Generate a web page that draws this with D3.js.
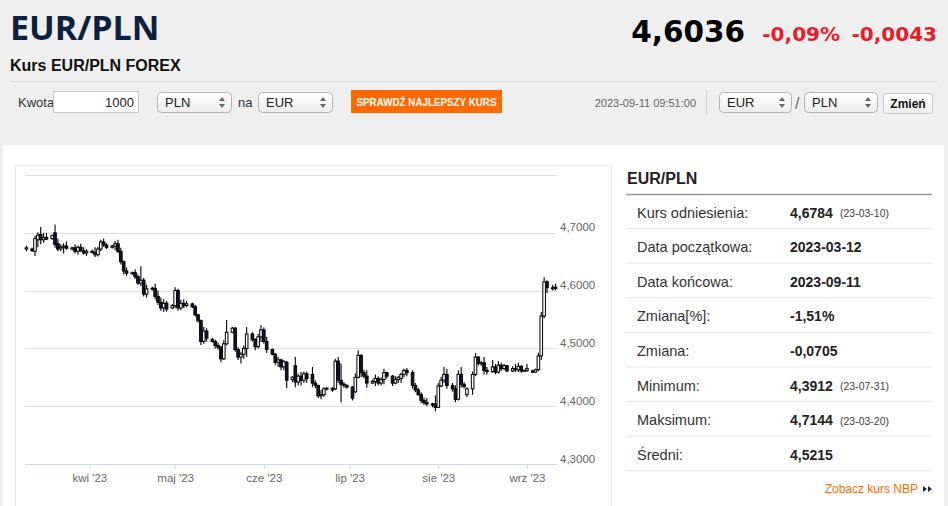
<!DOCTYPE html>
<html>
<head>
<meta charset="utf-8">
<script src="https://cdn.jsdelivr.net/npm/d3@7"></script>
<style>
  html, body { margin: 0; padding: 0; background: #efefef; }
  svg { display: block; }
</style>
</head>
<body>
<div id="page"></div>
<script>
// dzienne świece EUR/PLN (niedziela-piątek)
var days = [
  "03-10",
  "03-12","03-13","03-14","03-15","03-16","03-17",
  "03-19","03-20","03-21","03-22","03-23","03-24",
  "03-26","03-27","03-28","03-29","03-30","03-31",
  "04-02","04-03","04-04","04-05","04-06","04-07",
  "04-09","04-10","04-11","04-12","04-13","04-14",
  "04-16","04-17","04-18","04-19","04-20","04-21",
  "04-23","04-24","04-25","04-26","04-27","04-28",
  "04-30","05-01","05-02","05-03","05-04","05-05",
  "05-07","05-08","05-09","05-10","05-11","05-12",
  "05-14","05-15","05-16","05-17","05-18","05-19",
  "05-21","05-22","05-23","05-24","05-25","05-26",
  "05-28","05-29","05-30","05-31","06-01","06-02",
  "06-04","06-05","06-06","06-07","06-08","06-09",
  "06-11","06-12","06-13","06-14","06-15","06-16",
  "06-18","06-19","06-20","06-21","06-22","06-23",
  "06-25","06-26","06-27","06-28","06-29","06-30",
  "07-02","07-03","07-04","07-05","07-06","07-07",
  "07-09","07-10","07-11","07-12","07-13","07-14",
  "07-16","07-17","07-18","07-19","07-20","07-21",
  "07-23","07-24","07-25","07-26","07-27","07-28",
  "07-30","07-31","08-01","08-02","08-03","08-04",
  "08-06","08-07","08-08","08-09","08-10","08-11",
  "08-13","08-14","08-15","08-16","08-17","08-18",
  "08-20","08-21","08-22","08-23","08-24","08-25",
  "08-27","08-28","08-29","08-30","08-31","09-01",
  "09-03","09-04","09-05","09-06","09-07","09-08",
  "09-10","09-11"
];
var open = [
  4.672,
  4.672,4.668,4.688,4.697,4.688,4.692,
  4.690,4.700,4.681,4.672,4.675,4.677,
  4.672,4.674,4.668,4.675,4.669,4.665,
  4.668,4.666,4.662,4.672,4.684,4.679,
  4.675,4.677,4.681,4.668,4.650,4.634,
  4.630,4.631,4.624,4.613,4.618,4.594,
  4.603,4.604,4.590,4.580,4.570,4.578,
  4.570,4.574,4.600,4.570,4.578,4.574,
  4.577,4.572,4.558,4.548,4.512,4.530,
  4.515,4.512,4.505,4.502,4.482,4.508,
  4.528,4.535,4.498,4.485,4.490,4.500,
  4.525,4.515,4.503,4.520,4.532,4.512,
  4.498,4.490,4.476,4.480,4.468,4.476,
  4.446,4.470,4.442,4.452,4.445,4.456,
  4.455,4.440,4.436,4.418,4.420,4.430,
  4.431,4.430,4.478,4.445,4.438,4.436,
  4.433,4.425,4.450,4.488,4.458,4.452,
  4.440,4.443,4.448,4.440,4.446,4.458,
  4.452,4.440,4.446,4.448,4.455,4.462,
  4.458,4.436,4.428,4.420,4.410,4.406,
  4.404,4.404,4.398,4.435,4.445,4.455,
  4.436,4.430,4.412,4.455,4.438,4.420,
  4.430,4.455,4.485,4.474,4.475,4.462,
  4.460,4.468,4.459,4.471,4.465,4.470,
  4.461,4.465,4.463,4.469,4.461,4.462,
  4.461,4.459,4.463,4.487,4.556,4.615,
  4.605,4.606
];
var high = [
  4.678,
  4.674,4.695,4.701,4.710,4.700,4.700,
  4.697,4.7144,4.690,4.680,4.682,4.685,
  4.676,4.680,4.678,4.681,4.675,4.672,
  4.671,4.675,4.676,4.688,4.690,4.682,
  4.679,4.686,4.688,4.674,4.652,4.640,
  4.633,4.637,4.628,4.642,4.622,4.610,
  4.607,4.612,4.600,4.588,4.585,4.582,
  4.577,4.606,4.603,4.584,4.585,4.582,
  4.579,4.575,4.560,4.550,4.537,4.535,
  4.518,4.515,4.510,4.504,4.514,4.549,
  4.537,4.537,4.502,4.494,4.505,4.537,
  4.528,4.518,4.525,4.540,4.536,4.520,
  4.500,4.492,4.485,4.482,4.480,4.478,
  4.452,4.485,4.456,4.459,4.460,4.460,
  4.468,4.445,4.437,4.428,4.433,4.433,
  4.433,4.482,4.485,4.474,4.442,4.438,
  4.435,4.457,4.497,4.490,4.463,4.462,
  4.446,4.455,4.452,4.450,4.465,4.460,
  4.454,4.452,4.452,4.458,4.465,4.466,
  4.462,4.440,4.432,4.424,4.415,4.414,
  4.406,4.419,4.440,4.451,4.468,4.465,
  4.440,4.436,4.462,4.468,4.442,4.433,
  4.460,4.492,4.487,4.478,4.485,4.468,
  4.480,4.473,4.478,4.475,4.473,4.471,
  4.469,4.473,4.475,4.471,4.463,4.473,
  4.463,4.465,4.492,4.563,4.623,4.618,
  4.610,4.612
];
var low = [
  4.668,
  4.667,4.660,4.675,4.680,4.683,4.688,
  4.688,4.674,4.668,4.668,4.664,4.670,
  4.670,4.664,4.662,4.667,4.662,4.660,
  4.664,4.658,4.659,4.668,4.676,4.672,
  4.673,4.670,4.665,4.645,4.628,4.625,
  4.627,4.620,4.610,4.608,4.590,4.588,
  4.600,4.585,4.575,4.565,4.563,4.564,
  4.568,4.570,4.565,4.566,4.570,4.571,
  4.570,4.555,4.545,4.506,4.508,4.512,
  4.510,4.500,4.498,4.476,4.480,4.505,
  4.526,4.494,4.480,4.474,4.482,4.485,
  4.512,4.497,4.500,4.511,4.508,4.492,
  4.488,4.471,4.468,4.462,4.462,4.431,
  4.442,4.433,4.436,4.436,4.440,4.440,
  4.433,4.431,4.414,4.412,4.416,4.427,
  4.425,4.428,4.440,4.407,4.432,4.430,
  4.410,4.423,4.448,4.450,4.448,4.432,
  4.438,4.435,4.436,4.436,4.438,4.448,
  4.435,4.438,4.440,4.440,4.450,4.452,
  4.430,4.424,4.418,4.405,4.402,4.400,
  4.398,4.3912,4.397,4.433,4.440,4.430,
  4.425,4.407,4.410,4.432,4.430,4.416,
  4.420,4.452,4.470,4.470,4.455,4.455,
  4.458,4.455,4.456,4.461,4.463,4.459,
  4.459,4.459,4.459,4.458,4.459,4.459,
  4.457,4.458,4.461,4.480,4.552,4.596,
  4.600,4.600
];
var close = [
  4.674,
  4.669,4.690,4.696,4.688,4.692,4.689,
  4.695,4.680,4.672,4.675,4.677,4.673,
  4.674,4.668,4.675,4.669,4.665,4.668,
  4.666,4.662,4.672,4.684,4.679,4.675,
  4.677,4.681,4.668,4.650,4.634,4.630,
  4.631,4.624,4.613,4.618,4.594,4.603,
  4.604,4.590,4.580,4.570,4.578,4.568,
  4.574,4.600,4.570,4.578,4.574,4.577,
  4.572,4.558,4.548,4.512,4.530,4.518,
  4.512,4.505,4.502,4.482,4.508,4.528,
  4.535,4.498,4.485,4.490,4.500,4.525,
  4.515,4.503,4.520,4.532,4.512,4.498,
  4.490,4.476,4.480,4.468,4.477,4.445,
  4.450,4.442,4.452,4.445,4.456,4.448,
  4.440,4.436,4.418,4.420,4.430,4.431,
  4.428,4.478,4.445,4.438,4.436,4.433,
  4.414,4.450,4.488,4.458,4.452,4.440,
  4.443,4.448,4.440,4.446,4.458,4.452,
  4.440,4.446,4.450,4.455,4.462,4.458,
  4.436,4.428,4.420,4.410,4.406,4.404,
  4.402,4.398,4.435,4.445,4.455,4.436,
  4.430,4.412,4.455,4.438,4.434,4.430,
  4.455,4.485,4.474,4.475,4.462,4.460,
  4.468,4.459,4.471,4.465,4.470,4.461,
  4.465,4.463,4.469,4.461,4.462,4.465,
  4.459,4.463,4.487,4.556,4.615,4.605,
  4.603,4.6036
];

var yTicks = [4.3, 4.4, 4.5, 4.6, 4.7];
var yGrid = [4.3, 4.4, 4.5, 4.6, 4.7, 4.8];
var monthTicks = ["2023-04-01","2023-05-01","2023-06-01","2023-07-01","2023-08-01","2023-09-01"];
var monthLabels = ["kwi '23","maj '23","cze '23","lip '23","sie '23","wrz '23"];

var statLabels = ["Kurs odniesienia:","Data początkowa:","Data końcowa:","Zmiana[%]:","Zmiana:","Minimum:","Maksimum:","Średni:"];
var statValues = ["4,6784","2023-03-12","2023-09-11","-1,51%","-0,0705","4,3912","4,7144","4,5215"];
var statNotes = ["(23-03-10)","","","","","(23-07-31)","(23-03-20)",""];

var width = 948, height = 506;
var sans = "'Liberation Sans', Arial, sans-serif";
var verd = "'DejaVu Sans', Verdana, sans-serif";

var svg = d3.select("#page").append("svg")
  .attr("width", width)
  .attr("height", height);

svg.append("rect").attr("width", width).attr("height", height).attr("fill", "#efefef");

// ---- naglowek ----
svg.append("text").attr("x", 10).attr("y", 40)
  .attr("font-family", "'Open Sans', sans-serif").attr("font-weight", "bold")
  .attr("font-size", 34).attr("fill", "#0a2142").text("EUR/PLN");

svg.append("text").attr("x", 10).attr("y", 71)
  .attr("font-family", sans).attr("font-weight", "bold")
  .attr("font-size", 16).attr("fill", "#111").text("Kurs EUR/PLN FOREX");

svg.append("text").attr("x", 745).attr("y", 42).attr("text-anchor", "end")
  .attr("font-family", verd).attr("font-weight", "bold")
  .attr("font-size", 29.5).attr("fill", "#000").text("4,6036");
svg.append("text").attr("x", 840).attr("y", 41).attr("text-anchor", "end")
  .attr("font-family", verd).attr("font-weight", "bold")
  .attr("font-size", 20).attr("fill", "#ea1c28").text("-0,09%");
svg.append("text").attr("x", 937).attr("y", 41).attr("text-anchor", "end")
  .attr("font-family", verd).attr("font-weight", "bold")
  .attr("font-size", 20).attr("fill", "#ea1c28").text("-0,0043");

svg.append("line").attr("x1", 10).attr("x2", 938).attr("y1", 81.5).attr("y2", 81.5)
  .attr("stroke", "#dcdcdc");

// ---- pasek formularza ----
var defs = svg.append("defs");
var grad = defs.append("linearGradient").attr("id", "sel").attr("x1", 0).attr("x2", 0).attr("y1", 0).attr("y2", 1);
grad.append("stop").attr("offset", "0%").attr("stop-color", "#ffffff");
grad.append("stop").attr("offset", "100%").attr("stop-color", "#ececec");

function selectBox(x, w, label) {
  var g = svg.append("g").attr("transform", "translate(" + x + ",92)");
  g.append("rect").attr("x", 0.5).attr("y", 0.5).attr("width", w).attr("height", 20).attr("rx", 4)
    .attr("fill", "url(#sel)").attr("stroke", "#b5b5b5");
  g.append("text").attr("x", 8).attr("y", 15).attr("font-family", sans).attr("font-size", 13)
    .attr("fill", "#222").text(label);
  g.append("path").attr("d", "M" + (w - 12) + ",9 l3,-4 l3,4z M" + (w - 12) + ",12 l3,4 l3,-4z")
    .attr("fill", "#666");
}

svg.append("text").attr("x", 18).attr("y", 107).attr("font-family", sans).attr("font-size", 13)
  .attr("fill", "#333").text("Kwota");
svg.append("rect").attr("x", 53.5).attr("y", 91.5).attr("width", 85).attr("height", 21)
  .attr("fill", "#fff").attr("stroke", "#c8c8c8");
svg.append("text").attr("x", 134).attr("y", 107).attr("text-anchor", "end").attr("font-family", sans)
  .attr("font-size", 13).attr("fill", "#222").text("1000");
selectBox(157, 74, "PLN");
svg.append("text").attr("x", 238).attr("y", 107).attr("font-family", sans).attr("font-size", 13)
  .attr("fill", "#333").text("na");
selectBox(258, 74, "EUR");

svg.append("rect").attr("x", 351).attr("y", 90).attr("width", 151).attr("height", 23).attr("fill", "#ff6a00");
svg.append("text").attr("x", 426.5).attr("y", 106).attr("text-anchor", "middle").attr("font-family", sans)
  .attr("font-weight", "bold").attr("font-size", 10.5).attr("fill", "#fff")
  .attr("textLength", 140).attr("lengthAdjust", "spacingAndGlyphs").text("SPRAWDŹ NAJLEPSZY KURS");

svg.append("text").attr("x", 696).attr("y", 107).attr("text-anchor", "end").attr("font-family", sans)
  .attr("font-size", 11).attr("fill", "#666").text("2023-09-11 09:51:00");
svg.append("line").attr("x1", 706.5).attr("x2", 706.5).attr("y1", 90).attr("y2", 115).attr("stroke", "#d0d0d0");
selectBox(719, 72, "EUR");
svg.append("text").attr("x", 795).attr("y", 109).attr("font-family", sans).attr("font-size", 16)
  .attr("fill", "#666").text("/");
selectBox(804, 73, "PLN");
svg.append("rect").attr("x", 883.5).attr("y", 93.5).attr("width", 49).attr("height", 20).attr("rx", 2)
  .attr("fill", "url(#sel)").attr("stroke", "#c8c8c8");
svg.append("text").attr("x", 908).attr("y", 108).attr("text-anchor", "middle").attr("font-family", sans)
  .attr("font-weight", "bold").attr("font-size", 12).attr("fill", "#111").text("Zmień");

// ---- panel ----
svg.append("rect").attr("x", 3).attr("y", 145).attr("width", 941).attr("height", 370).attr("fill", "#fff");
svg.append("rect").attr("x", 15.5).attr("y", 165.5).attr("width", 596).attr("height", 360)
  .attr("fill", "none").attr("stroke", "#e8e8e8");

// ---- wykres ----
var parse = d3.timeParse("%Y-%m-%d");
var dates = days.map(function(d) { return parse("2023-" + d); });

var x = d3.scaleTime()
  .domain([new Date(2023, 2, 9, 12), new Date(2023, 8, 11, 12)])
  .range([25, 557]);
var y = d3.scaleLinear().domain([4.3, 4.8]).range([464, 175]);

svg.append("g").selectAll("line").data(yGrid).enter().append("line")
  .attr("x1", 25).attr("x2", 557)
  .attr("y1", function(d) { return Math.round(y(d)) + 0.5; })
  .attr("y2", function(d) { return Math.round(y(d)) + 0.5; })
  .attr("stroke", "#e0e0e0");

var yAxis = svg.append("g").attr("transform", "translate(557,0)")
  .call(d3.axisRight(y).tickValues(yTicks).tickSize(0).tickPadding(3)
    .tickFormat(function(d) { return d.toFixed(4).replace(".", ","); }));
yAxis.select(".domain").remove();
yAxis.selectAll("text").attr("dy", -2).attr("fill", "#666")
  .attr("font-family", sans).attr("font-size", 11.5);

var xAxis = svg.append("g").attr("transform", "translate(0,464)")
  .call(d3.axisBottom(x).tickValues(monthTicks.map(parse)).tickSize(5).tickSizeOuter(0).tickPadding(5)
    .tickFormat(function(d, i) { return monthLabels[i]; }));
xAxis.select(".domain").attr("stroke", "#ccd6eb");
xAxis.selectAll(".tick line").attr("stroke", "#ccd6eb");
xAxis.selectAll("text").attr("fill", "#666").attr("font-family", sans).attr("font-size", 11.5);

var candles = svg.append("g").selectAll("g").data(days).enter().append("g");
candles.append("line")
  .attr("x1", function(d, i) { return x(dates[i]); })
  .attr("x2", function(d, i) { return x(dates[i]); })
  .attr("y1", function(d, i) { return y(high[i]); })
  .attr("y2", function(d, i) { return y(low[i]); })
  .attr("stroke", "#000").attr("stroke-width", 1.1);
candles.append("rect")
  .attr("x", function(d, i) { return x(dates[i]) - 1.3; })
  .attr("width", 2.6)
  .attr("y", function(d, i) { return y(Math.max(open[i], close[i])); })
  .attr("height", function(d, i) { return Math.max(0.8, Math.abs(y(open[i]) - y(close[i]))); })
  .attr("fill", function(d, i) { return close[i] >= open[i] ? "#fff" : "#0b1830"; })
  .attr("stroke", "#000").attr("stroke-width", 1);

// ---- tabela ----
svg.append("text").attr("x", 627).attr("y", 184).attr("font-family", sans).attr("font-weight", "bold")
  .attr("font-size", 16).attr("fill", "#222").text("EUR/PLN");
svg.append("line").attr("x1", 626).attr("x2", 932).attr("y1", 194.5).attr("y2", 194.5)
  .attr("stroke", "#999").attr("stroke-width", 1.5);

var rowH = 34.6;
var rows = svg.append("g").selectAll("g").data(statLabels).enter().append("g")
  .attr("transform", function(d, i) { return "translate(0," + (194 + i * rowH) + ")"; });
rows.append("line").attr("x1", 626).attr("x2", 932).attr("y1", rowH).attr("y2", rowH)
  .attr("stroke", "#e6e6e6");
rows.append("text").attr("x", 637).attr("y", 23.5).attr("font-family", sans).attr("font-size", 14.5)
  .attr("fill", "#333").text(function(d) { return d; });
rows.append("text").attr("x", 790).attr("y", 23.5).attr("font-family", sans).attr("font-weight", "bold")
  .attr("font-size", 14).attr("fill", "#222").text(function(d, i) { return statValues[i]; });
rows.append("text").attr("x", 840).attr("y", 23).attr("font-family", sans).attr("font-size", 10.5)
  .attr("fill", "#444").text(function(d, i) { return statNotes[i]; });

svg.append("text").attr("x", 918).attr("y", 493).attr("text-anchor", "end").attr("font-family", sans)
  .attr("font-size", 12).attr("fill", "#ff6a00").text("Zobacz kurs NBP");
svg.append("path").attr("d", "M923,486 l4,3 l-4,3z M928,486 l4,3 l-4,3z").attr("fill", "#1a2a44");
</script>
</body>
</html>
